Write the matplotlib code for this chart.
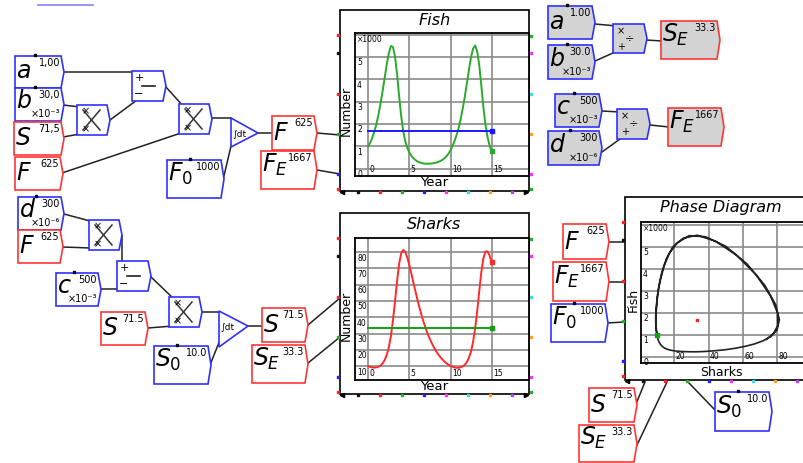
import matplotlib
matplotlib.use("Agg")
import matplotlib.pyplot as plt
from matplotlib.patches import Polygon, Rectangle
from matplotlib import transforms

W, H = 804, 463

years = [0.0, 0.25, 0.5, 0.75, 1.0, 1.25, 1.5, 1.75, 2.0, 2.25, 2.5, 2.75,
         3.0, 3.25, 3.5, 3.75, 4.0, 4.25, 4.5, 4.75, 5.0, 5.25, 5.5, 5.75,
         6.0, 6.25, 6.5, 6.75, 7.0, 7.25, 7.5, 7.75, 8.0, 8.25, 8.5, 8.75,
         9.0, 9.25, 9.5, 9.75, 10.0, 10.25, 10.5, 10.75, 11.0, 11.25, 11.5,
         11.75, 12.0, 12.25, 12.5, 12.75, 13.0, 13.25, 13.5, 13.75, 14.0,
         14.25, 14.5, 14.75, 15.0]
fish_k = [1.00, 1.18, 1.40, 1.68, 2.02, 2.45, 2.95, 3.50, 4.10, 4.70,
          5.18, 5.50, 5.45, 5.02, 4.22, 3.25, 2.35, 1.68, 1.22, 0.92,
          0.72, 0.57, 0.46, 0.38, 0.32, 0.28, 0.25, 0.23, 0.22, 0.22,
          0.225, 0.235, 0.25, 0.27, 0.30, 0.34, 0.39, 0.46, 0.55, 0.67,
          0.82, 1.02, 1.25, 1.52, 1.84, 2.24, 2.72, 3.25, 3.84, 4.45,
          5.00, 5.38, 5.52, 5.25, 4.62, 3.72, 2.75, 1.97, 1.42, 1.05, 0.78]
sharks = [10.0, 9.6, 9.3, 9.2, 9.4, 9.8, 10.5, 11.9, 13.9, 17.1,
          21.8, 28.7, 38.2, 50.0, 62.4, 72.8, 79.3, 81.4, 80.1, 76.6,
          71.9, 66.6, 61.0, 55.6, 50.4, 45.5, 40.9, 36.8, 33.0, 29.6,
          26.6, 23.9, 21.4, 19.3, 17.4, 15.7, 14.3, 13.0, 11.9, 11.0,
          10.3, 9.7, 9.3, 9.1, 9.1, 9.4, 10.0, 11.0, 12.7, 15.3,
          19.2, 25.1, 33.3, 44.0, 56.2, 67.8, 76.3, 80.4, 80.5, 78.0, 73.7]

FE = 1667
SE = 33.3

BLUE = '#3030ff'
RED = '#ff3535'
GRAY = '#d3d3d3'
WIRE = '#222222'
PC = {'r': '#ff2020', 'k': '#111111', 'g': '#20b020', 'b': '#2020ff',
      'm': '#ff30ff', 'c': '#30e0e0', 'o': '#ffa020', 'p': '#b040ff'}

fig = plt.figure(figsize=(W / 100, H / 100), dpi=100)
bg = fig.add_axes([0, 0, 1, 1])
bg.set_xlim(0, W)
bg.set_ylim(H, 0)
bg.axis('off')


def shape(x0, y0, x1, y1, ec, fc='white', n=3):
    pts = [(x0, y0), (x1 - n, y0), (x1, (y0 + y1) / 2), (x1 - n, y1), (x0, y1)]
    bg.add_patch(Polygon(pts, closed=True, fc=fc, ec=ec, lw=1.2, zorder=2))


def var(x0, y0, x1, y1, name, val, exp=None, ec=BLUE, fc='white', sub=False):
    shape(x0, y0, x1, y1, ec, fc)
    base = y1 - 17 if sub else (y1 - 13 if exp else y1 - 10)
    bg.text(x0 + 1, base, name, fontsize=17, ha='left', va='baseline', zorder=3)
    bg.text(x1 - 4, y0 + 2, val, fontsize=7, ha='right', va='top', zorder=3)
    if exp:
        bg.text(x1 - 4, y1 - 2, exp, fontsize=7, ha='right', va='bottom', zorder=3)
    if ec == BLUE:
        bg.plot(x0 + 0.4 * (x1 - x0), y0 - 1, 's', ms=1.5, color='k', zorder=3)


def mult(x0, y0, x1, y1):
    shape(x0, y0, x1, y1, BLUE)
    bg.plot([x0 + 6, x0 + 23], [y0 + 5, y0 + 25], color='#333', lw=1.1, zorder=3)
    bg.plot([x0 + 23, x0 + 6], [y0 + 5, y0 + 25], color='#333', lw=1.1, zorder=3)
    bg.text(x0 + 9, y0 + 6, '×', fontsize=7, ha='center', va='center', zorder=3)
    bg.text(x0 + 9, y0 + 24, '×', fontsize=7, ha='center', va='center', zorder=3)


def minus(x0, y0, x1, y1):
    shape(x0, y0, x1, y1, BLUE)
    bg.text(x0 + 7, y0 + 7, '+', fontsize=8, ha='center', va='center', zorder=3)
    bg.plot([x0 + 10, x0 + 23], [y0 + 15, y0 + 15], color='#222', lw=1.2, zorder=3)
    bg.text(x0 + 7, y0 + 23, '−', fontsize=8, ha='center', va='center', zorder=3)


def divide(x0, y0, x1, y1):
    shape(x0, y0, x1, y1, BLUE, GRAY)
    bg.text(x0 + 8, y0 + 7, '×', fontsize=7, ha='center', va='center', zorder=3)
    bg.text(x0 + 17, y0 + 14, '÷', fontsize=8, ha='center', va='center', zorder=3)
    bg.text(x0 + 8, y0 + 23, '+', fontsize=7, ha='center', va='center', zorder=3)


def integ(x0, ytop, ybot, tip):
    bg.add_patch(Polygon([(x0, ytop), tip, (x0, ybot)], closed=True, fc='white',
                         ec=BLUE, lw=1.2, zorder=2))
    bg.text(x0 + 1.5, tip[1] + 1, '∫dt', fontsize=6.5, ha='left', va='center', zorder=3)


def wire(p, q):
    bg.plot([p[0], q[0]], [p[1], q[1]], color=WIRE, lw=1.1, zorder=1.5)


def frame(x0, y0, x1, y1, title, tx, ty):
    bg.add_patch(Rectangle((x0, y0), x1 - x0, y1 - y0, fc='white', ec='black',
                           lw=1.2, zorder=1))
    bg.text(tx, ty, title, fontsize=11.5, style='italic', ha='center',
            va='baseline', zorder=3)
    left = [(25, 'r'), (43, 'k'), (84, 'r'), (124, 'g'), (164, 'b'), (179, 'r')]
    right = [(26, 'g'), (43, 'm'), (84, 'c'), (124, 'o'), (164, 'm'), (179, 'g')]
    bottom = [(18, 'k'), (40, 'r'), (62, 'g'), (84, 'b'), (106, 'm'),
              (128, 'c'), (150, 'o'), (172, 'p')]
    for dy, c in left:
        bg.plot(x0 - 1.5, y0 + dy, 's', ms=2, color=PC[c], zorder=4)
    for dy, c in right:
        bg.plot(x0 + 191, y0 + dy, 's', ms=2, color=PC[c], zorder=4)
    for dx, c in bottom:
        bg.plot(x0 + dx, y1 + 1, 's', ms=2, color=PC[c], zorder=4)
    bg.plot(x0 + 2, y1 + 1, '<', ms=3, color='k', zorder=4)
    bg.plot(x0 + 186, y1 + 1, '>', ms=3, color='k', zorder=4)


def panel(x0, y0, x1, y1, xlim, ylim, xg, yg, xl, yl, top=None):
    ax = fig.add_axes([x0 / W, 1 - y1 / H, (x1 - x0) / W, (y1 - y0) / H])
    ax.set_xlim(*xlim)
    ax.set_ylim(*ylim)
    ax.set_xticks(xg)
    ax.set_yticks(yg)
    ax.tick_params(length=0, labelbottom=False, labelleft=False)
    ax.grid(True, color='#8a8a8a', lw=1.2)
    ax.set_axisbelow(True)
    for s in ax.spines.values():
        s.set_linewidth(1.3)
    ty = transforms.blended_transform_factory(ax.transAxes, ax.transData)
    tx = transforms.blended_transform_factory(ax.transData, ax.transAxes)
    for v in yl:
        ax.annotate(f'{v:g}', xy=(0, v), xycoords=ty, xytext=(1.5, -1),
                    textcoords='offset points', fontsize=5.5, ha='left', va='top')
    for v in xl:
        ax.annotate(f'{v:g}', xy=(v, 0), xycoords=tx, xytext=(1, 1.5),
                    textcoords='offset points', fontsize=5.5, ha='left', va='bottom')
    if top:
        ax.annotate(top, xy=(0, 1), xycoords='axes fraction', xytext=(1.5, -1.5),
                    textcoords='offset points', fontsize=5.5, ha='left', va='top')
    return ax


# stray edge at top
bg.plot([38, 93], [5, 5], color=BLUE, lw=1.2, alpha=0.6)

# ---- fish equation ----
wire((63, 72), (136, 72))
wire((63, 105), (80, 107))
wire((63, 137), (80, 134))
wire((110, 120), (137, 100))
wire((165, 86), (184, 107))
wire((62, 173), (181, 133))
wire((212, 118), (231, 118))
wire((223, 180), (231, 146))
wire((258, 133), (273, 133))
wire((317, 133), (340, 135))
wire((317, 170), (340, 174))

var(15, 56, 64, 88, r'$a$', '1,00')
var(15, 88, 64, 121, r'$b$', '30,0', '×10⁻³')
var(14, 122, 64, 155, r'$S$', '71,5', ec=RED)
var(15, 157, 63, 190, r'$F$', '625', ec=RED)
minus(132, 71, 166, 101)
mult(77, 105, 110, 135)
mult(179, 104, 212, 134)
integ(231, 118, 147, (258, 133))
var(167, 160, 224, 198, r'$F_\mathit{0}$', '1000', sub=True)
var(272, 116, 317, 150, r'$F$', '625', ec=RED)
var(261, 151, 317, 189, r'$F_E$', '1667', ec=RED, sub=True)

# ---- shark equation ----
wire((64, 214), (90, 221))
wire((63, 247), (90, 248))
wire((122, 236), (122, 262))
wire((101, 289), (120, 289))
wire((150, 276), (175, 300))
wire((148, 328), (173, 326))
wire((202, 312), (219, 312))
wire((210, 365), (220, 340))
wire((248, 326), (263, 326))
wire((308, 325), (340, 298))
wire((308, 363), (340, 337))

var(18, 197, 64, 230, r'$d$', '300', '×10⁻⁶')
var(18, 230, 63, 263, r'$F$', '625', ec=RED)
mult(89, 220, 122, 250)
minus(117, 261, 151, 291)
var(56, 273, 101, 306, r'$c$', '500', '×10⁻³')
mult(169, 297, 202, 327)
var(101, 312, 148, 345, r'$S$', '71.5', ec=RED)
integ(219, 311, 347, (248, 326))
var(154, 346, 211, 384, r'$S_\mathit{0}$', '10.0', sub=True)
var(262, 308, 308, 342, r'$S$', '71.5', ec=RED)
var(252, 345, 308, 383, r'$S_E$', '33.3', ec=RED, sub=True)

# ---- equilibria (top right) ----
wire((595, 24), (617, 26))
wire((595, 61), (613, 53))
wire((646, 40), (662, 41))
wire((602, 111), (620, 112))
wire((602, 152), (620, 139))
wire((650, 125), (669, 127))
var(548, 6, 595, 39, r'$a$', '1.00', fc=GRAY)
var(548, 45, 595, 79, r'$b$', '30.0', '×10⁻³', fc=GRAY)
divide(613, 24, 647, 53)
var(661, 21, 720, 59, r'$S_E$', '33.3', ec=RED, fc=GRAY, sub=True)
var(555, 94, 602, 127, r'$c$', '500', '×10⁻³', fc=GRAY)
var(548, 131, 602, 165, r'$d$', '300', '×10⁻⁶', fc=GRAY)
divide(617, 109, 650, 139)
var(668, 108, 724, 146, r'$F_E$', '1667', ec=RED, fc=GRAY, sub=True)

# ---- phase diagram inputs ----
wire((608, 242), (625, 242))
wire((608, 282), (625, 282))
wire((606, 323), (625, 322))
wire((636, 404), (645, 382))
wire((637, 445), (667, 382))
wire((715, 410), (689, 383))
var(563, 224, 609, 259, r'$F$', '625', ec=RED)
var(553, 262, 609, 301, r'$F_E$', '1667', ec=RED, sub=True)
var(551, 304, 608, 342, r'$F_\mathit{0}$', '1000', sub=True)
var(589, 388, 637, 422, r'$S$', '71.5', ec=RED)
var(579, 425, 637, 462, r'$S_E$', '33.3', ec=RED, sub=True)
var(715, 392, 772, 431, r'$S_\mathit{0}$', '10.0', sub=True)

# ---- plots ----
frame(340, 10, 529, 191, 'Fish', 434.5, 25)
frame(340, 213, 529, 394, 'Sharks', 434.5, 229)
frame(625, 197, 830, 380, 'Phase Diagram', 721, 212)

for yc, yt in ((104, 183), (309, 387)):
    bg.text(346, yc + 7, 'Number', fontsize=9, rotation=90, ha='center', va='center', zorder=3)
    bg.text(434.5, yt, 'Year', fontsize=9.5, ha='center', va='center', zorder=3)
bg.text(721, 372, 'Sharks', fontsize=9, ha='center', va='center', zorder=3)
bg.text(633, 300, 'Fish', fontsize=9, rotation=90, ha='center', va='center', zorder=3)

ax1 = panel(355, 33, 529, 176, (-1.62, 19.55), (-0.33, 6.08),
            [0, 5, 10, 15], range(7), [0, 5, 10, 15], range(6), '×1000')
ax1.plot(years, fish_k, color='#2aaa2a', lw=1.4)
ax1.plot(years[-1], fish_k[-1], 's', ms=2.5, color='#2aaa2a')
ax1.plot([years[0], years[-1]], [FE / 1000] * 2, color='#1818ff', lw=1.4)
ax1.plot(years[-1], FE / 1000, 's', ms=2.5, color='#1818ff')

ax2 = panel(355, 238, 529, 380, (-1.62, 19.55), (1.6, 88.7),
            [0, 5, 10, 15], range(10, 90, 10), [0, 5, 10, 15], range(10, 90, 10))
ax2.plot(years, sharks, color='#ff2a2a', lw=1.4)
ax2.plot(years[-1], sharks[-1], 's', ms=2.5, color='#ff2a2a')
ax2.plot([years[0], years[-1]], [SE] * 2, color='#10a010', lw=1.4)
ax2.plot(years[-1], SE, 's', ms=2.5, color='#10a010')

ax3 = panel(641, 222, 830, 363, (0.5, 111), (-0.29, 6.12),
            [20, 40, 60, 80, 100], range(7), [20, 40, 60, 80], range(6), '×1000')
ax3.plot(sharks, fish_k, color='#222222', lw=1.2)
ax3.plot(sharks[0], fish_k[0], 's', ms=2.5, color='#10a010')
ax3.plot(SE, FE / 1000, 's', ms=2, color='#ff2020')

fig.savefig('out.png', dpi=100)
